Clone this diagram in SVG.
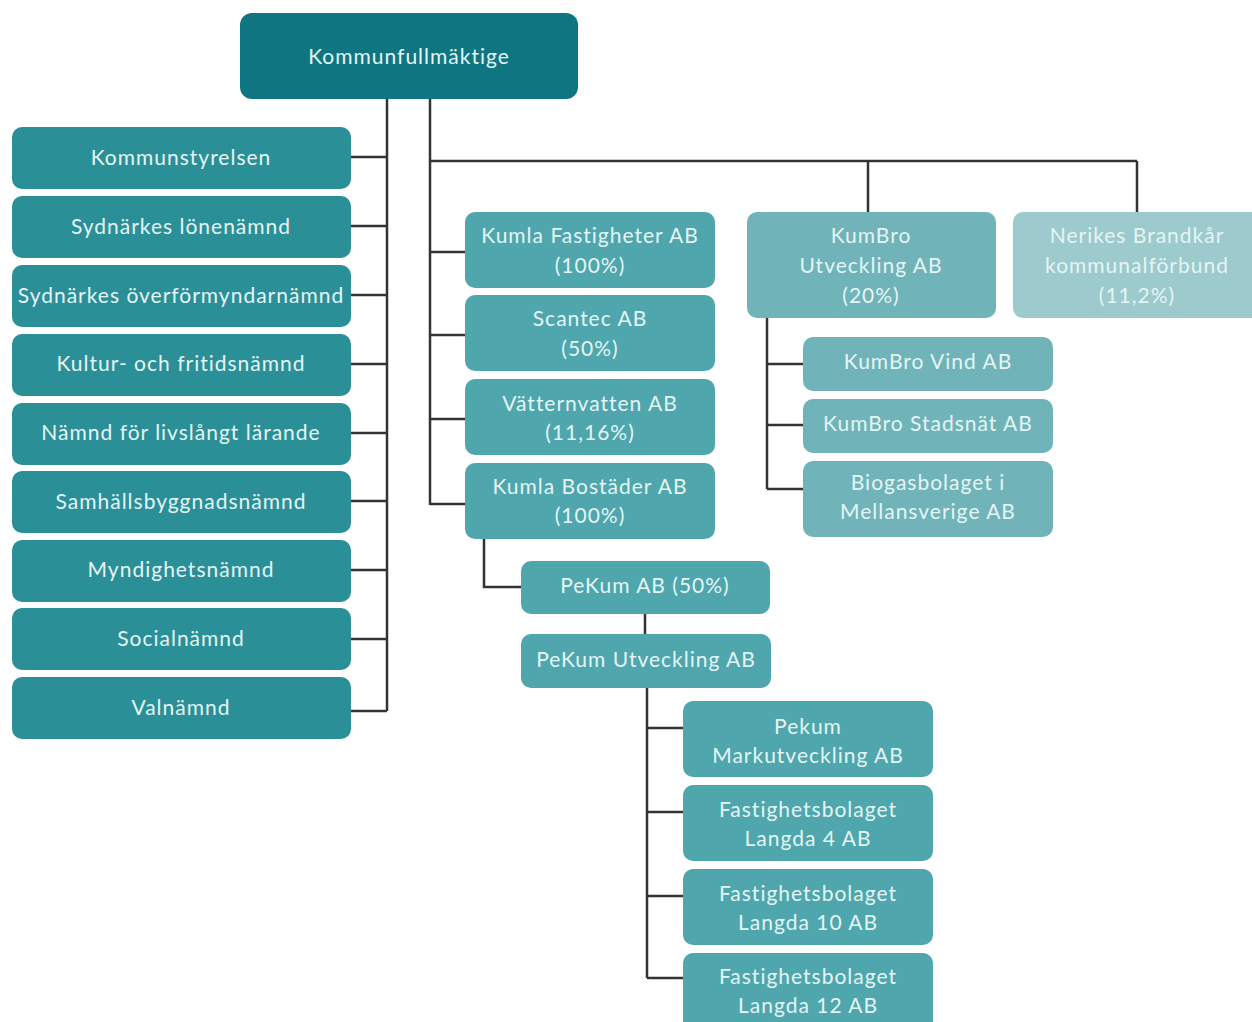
<svg xmlns="http://www.w3.org/2000/svg" width="1252" height="1022" viewBox="0 0 1252 1022">
<style>
text{font-family:Lato,"Open Sans","Liberation Sans",sans-serif;font-size:21px;letter-spacing:1px;fill:#e4f5f5;text-anchor:middle}
.top{fill:#0f7681}
.l{fill:#2b8f98}
.c{fill:#4fa6ad}
.k{fill:#70b3b9}
.n{fill:#9ccacd}
.cn{fill:none;stroke:#333;stroke-width:2.5}
</style>
<rect width="1252" height="1022" fill="#fff"/>
<g id="connectors">
<path class="cn" d="M387 99V711M351 157H387M351 226H387M351 295H387M351 364H387M351 433H387M351 501H387M351 570H387M351 639H387M351 711H387"/>
<path class="cn" d="M430 99V505M430 252H465M430 335H465M430 419H465M430 504H465M430 161H1137M868 161V212M1137 161V212"/>
<path class="cn" d="M767 318V489M767 364H803M767 425H803M767 489H803"/>
<path class="cn" d="M484 539V587H521M645 614V634M647 688V978M647 728H683M647 812H683M647 896H683M647 978H683"/>
</g>
<g id="n-kf"><rect class="top" x="240" y="13" width="338" height="86" rx="12"/><text x="409" y="64">Kommunfullmäktige</text></g>
<g id="n-ks"><rect class="l" x="12" y="127" width="339" height="62" rx="10"/><text x="181" y="165">Kommunstyrelsen</text></g>
<g id="n-sl"><rect class="l" x="12" y="196" width="339" height="62" rx="10"/><text x="181" y="234">Sydnärkes lönenämnd</text></g>
<g id="n-so"><rect class="l" x="12" y="265" width="339" height="62" rx="10"/><text x="181" y="303">Sydnärkes överförmyndarnämnd</text></g>
<g id="n-kfn"><rect class="l" x="12" y="334" width="339" height="62" rx="10"/><text x="181" y="371">Kultur- och fritidsnämnd</text></g>
<g id="n-nll"><rect class="l" x="12" y="403" width="339" height="62" rx="10"/><text x="181" y="440">Nämnd för livslångt lärande</text></g>
<g id="n-sbn"><rect class="l" x="12" y="471" width="339" height="62" rx="10"/><text x="181" y="509">Samhällsbyggnadsnämnd</text></g>
<g id="n-mn"><rect class="l" x="12" y="540" width="339" height="62" rx="10"/><text x="181" y="577">Myndighetsnämnd</text></g>
<g id="n-sn"><rect class="l" x="12" y="608" width="339" height="62" rx="10"/><text x="181" y="646">Socialnämnd</text></g>
<g id="n-vn"><rect class="l" x="12" y="677" width="339" height="62" rx="10"/><text x="181" y="715">Valnämnd</text></g>
<g id="n-kfab"><rect class="c" x="465" y="212" width="250" height="76" rx="10"/><text x="590" y="243">Kumla Fastigheter AB</text><text x="590" y="273">(100%)</text></g>
<g id="n-sc"><rect class="c" x="465" y="295" width="250" height="76" rx="10"/><text x="590" y="326">Scantec AB</text><text x="590" y="356">(50%)</text></g>
<g id="n-vv"><rect class="c" x="465" y="379" width="250" height="76" rx="10"/><text x="590" y="411">Vätternvatten AB</text><text x="590" y="440">(11,16%)</text></g>
<g id="n-kb"><rect class="c" x="465" y="463" width="250" height="76" rx="10"/><text x="590" y="494">Kumla Bostäder AB</text><text x="590" y="523">(100%)</text></g>
<g id="n-kbu"><rect class="k" x="747" y="212" width="249" height="106" rx="10"/><text x="871" y="243">KumBro</text><text x="871" y="273">Utveckling AB</text><text x="871" y="303">(20%)</text></g>
<g id="n-nb"><rect class="n" x="1013" y="212" width="250" height="106" rx="10"/><text x="1137" y="243">Nerikes Brandkår</text><text x="1137" y="273">kommunalförbund</text><text x="1137" y="303">(11,2%)</text></g>
<g id="n-kv"><rect class="k" x="803" y="337" width="250" height="54" rx="10"/><text x="928" y="369">KumBro Vind AB</text></g>
<g id="n-ks2"><rect class="k" x="803" y="399" width="250" height="54" rx="10"/><text x="928" y="431">KumBro Stadsnät AB</text></g>
<g id="n-bg"><rect class="k" x="803" y="461" width="250" height="76" rx="10"/><text x="928" y="490">Biogasbolaget i</text><text x="928" y="519">Mellansverige AB</text></g>
<g id="n-pk"><rect class="c" x="521" y="561" width="249" height="53" rx="10"/><text x="645" y="593">PeKum AB (50%)</text></g>
<g id="n-pku"><rect class="c" x="521" y="634" width="250" height="54" rx="10"/><text x="646" y="667">PeKum Utveckling AB</text></g>
<g id="n-pm"><rect class="c" x="683" y="701" width="250" height="76" rx="10"/><text x="808" y="734">Pekum</text><text x="808" y="763">Markutveckling AB</text></g>
<g id="n-l4"><rect class="c" x="683" y="785" width="250" height="76" rx="10"/><text x="808" y="817">Fastighetsbolaget</text><text x="808" y="846">Langda 4 AB</text></g>
<g id="n-l10"><rect class="c" x="683" y="869" width="250" height="76" rx="10"/><text x="808" y="901">Fastighetsbolaget</text><text x="808" y="930">Langda 10 AB</text></g>
<g id="n-l12"><rect class="c" x="683" y="953" width="250" height="80" rx="10"/><text x="808" y="984">Fastighetsbolaget</text><text x="808" y="1013">Langda 12 AB</text></g>
</svg>
